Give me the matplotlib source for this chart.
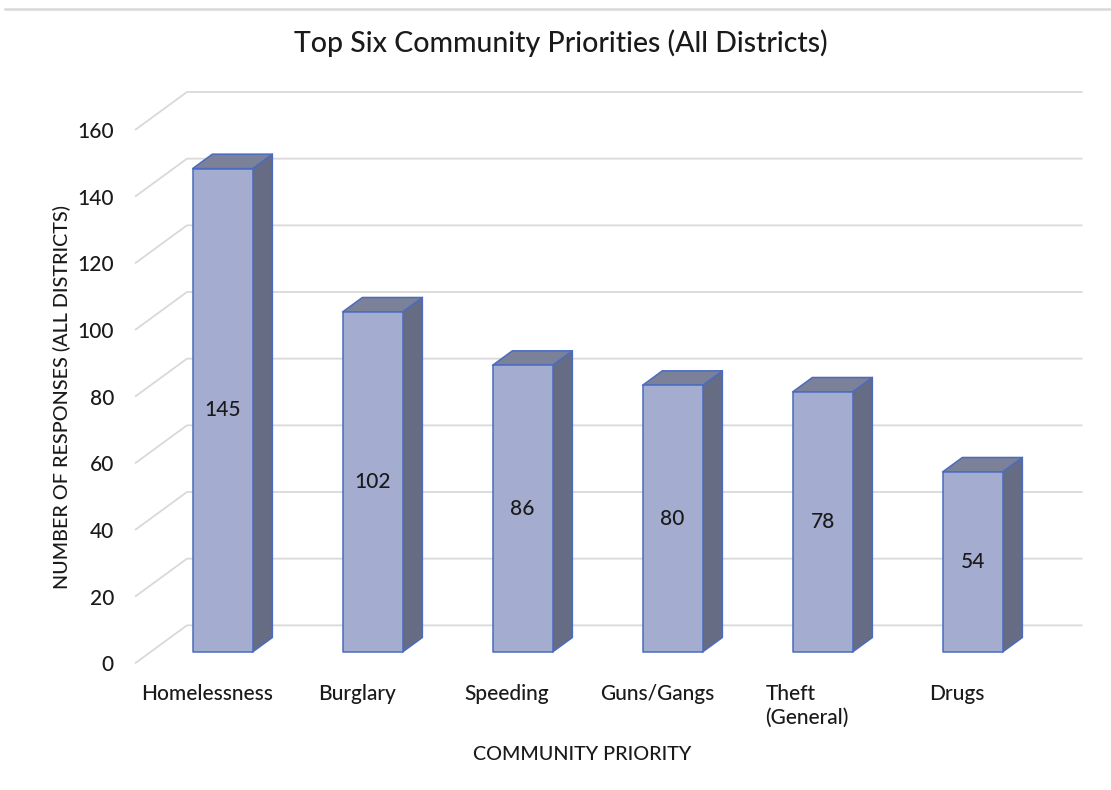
import matplotlib
matplotlib.use("Agg")
import matplotlib.pyplot as plt
from matplotlib.patches import Polygon
from matplotlib.lines import Line2D

# ---- data ----
categories = ["Homelessness", "Burglary", "Speeding", "Guns/Gangs", "Theft\n(General)", "Drugs"]
values = [145, 102, 86, 80, 78, 54]
y_ticks = [0, 20, 40, 60, 80, 100, 120, 140, 160]

title = "Top Six Community Priorities (All Districts)"
x_title = "COMMUNITY PRIORITY"
y_title = "NUMBER OF RESPONSES (ALL DISTRICTS)"

# ---- style ----
FONT = ["Lato", "DejaVu Sans"]
FRONT = "#A4ADCF"
SIDE = "#666C84"
TOP = "#7B8199"
EDGE = "#4A6BBF"
GRID = "#D9D9D9"
TEXT = "#1a1a1a"
WEIGHT = "medium"

plt.rcParams["font.family"] = FONT

W, H = 1111, 790
fig = plt.figure(figsize=(W / 100, H / 100), dpi=100)
ax = fig.add_axes([132 / W, 1 - 680 / H, 960 / W, 600 / H])
ax.set_xlim(-0.5, 5.9)
ax.set_ylim(-5, 175)

# oblique depth projection (depth z in [0, 1])
DX = 52 / 150.0          # category units per full depth
DY = 38 / (600 / 180.0)  # value units per full depth
HW = 0.2                 # half bar width
Z0, Z1 = 0.30, 0.68      # bar front/back depth
XL, XR = -0.48, 5.49     # wall extent


def P(x, y, z):
    return (x + z * DX, y + z * DY)


# gridlines: side diagonal + back wall
for t in y_ticks:
    a, b, c = P(XL, t, 0), P(XL, t, 1), P(XR, t, 1)
    ax.plot([a[0], b[0], c[0]], [a[1], b[1], c[1]], color=GRID, lw=1.3,
            zorder=1, solid_capstyle="butt")

# bars
for i, v in enumerate(values):
    front = [P(i - HW, 0, Z0), P(i + HW, 0, Z0), P(i + HW, v, Z0), P(i - HW, v, Z0)]
    side = [P(i + HW, 0, Z0), P(i + HW, 0, Z1), P(i + HW, v, Z1), P(i + HW, v, Z0)]
    top = [P(i - HW, v, Z0), P(i + HW, v, Z0), P(i + HW, v, Z1), P(i - HW, v, Z1)]
    for poly, col in ((side, SIDE), (top, TOP), (front, FRONT)):
        ax.add_patch(Polygon(poly, closed=True, facecolor=col, edgecolor=EDGE,
                             lw=1.1, joinstyle="round", zorder=3))
    cx, cy = P(i, v / 2.0, Z0)
    ax.text(cx, cy, str(v), ha="center", va="center", fontsize=15,
            color=TEXT, weight=WEIGHT, zorder=5)

# axes cosmetics
for s in ax.spines.values():
    s.set_visible(False)
ax.set_yticks(y_ticks)
ax.set_yticklabels([str(t) for t in y_ticks], weight=WEIGHT)
ax.tick_params(axis="y", length=0, pad=13, labelsize=15, labelcolor=TEXT)
ax.set_xticks(range(len(categories)))
ax.set_xticklabels(categories, weight=WEIGHT)
ax.tick_params(axis="x", length=0, pad=3, labelsize=15, labelcolor=TEXT)
for lbl in ax.get_xticklabels():
    lbl.set_multialignment("left")

fig.text(561 / W, 1 - 43 / H, title, ha="center", va="center", fontsize=20.5,
         color=TEXT, weight=WEIGHT)
fig.text(582 / W, 1 - 755 / H, x_title, ha="center", va="center",
         fontsize=14.2, color=TEXT, weight=WEIGHT)
fig.text(62 / W, 1 - 397 / H, y_title, ha="center", va="center",
         rotation=90, fontsize=14.2, color=TEXT, weight=WEIGHT)

fig.add_artist(Line2D([5 / W, 1.0], [1 - 8.5 / H, 1 - 8.5 / H],
                      transform=fig.transFigure, color=GRID, lw=1.8))

fig.savefig("out.png", dpi=100, facecolor="white")
